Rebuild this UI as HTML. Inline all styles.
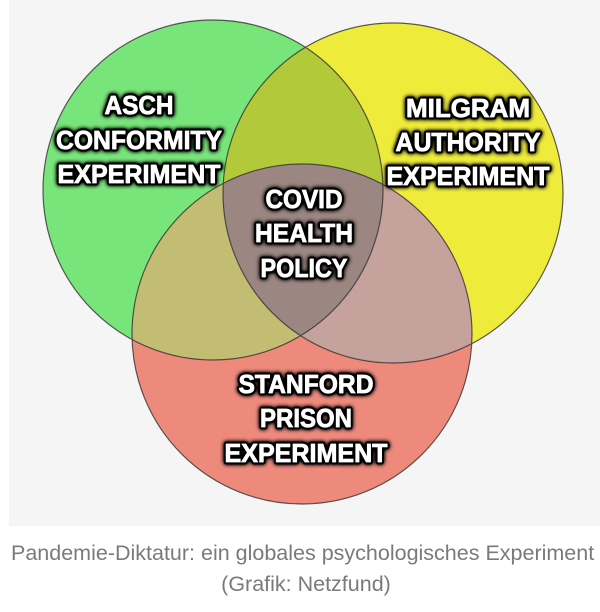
<!DOCTYPE html>
<html><head><meta charset="utf-8"><style>
html,body{margin:0;padding:0;background:#fff;width:600px;height:612px;overflow:hidden}
.cap{position:absolute;font-family:"Liberation Sans",sans-serif;font-size:21.5px;color:#7a7a7a;white-space:nowrap}
</style></head><body>
<div style="position:absolute;left:9px;top:0;width:591px;height:526px;background:#f5f5f5"></div>
<svg style="position:absolute;left:0;top:0" width="600" height="530" viewBox="0 0 600 530">
<defs>
<clipPath id="g"><circle cx="213" cy="190" r="170"/></clipPath>
<clipPath id="y"><circle cx="393" cy="193" r="170"/></clipPath>
<clipPath id="r"><circle cx="302" cy="334" r="170"/></clipPath>
<filter id="sh" x="-20%" y="-40%" width="140%" height="180%"><feGaussianBlur in="SourceAlpha" stdDeviation="2"/><feComponentTransfer><feFuncA type="linear" slope="1.5"/></feComponentTransfer><feMerge><feMergeNode/><feMergeNode in="SourceGraphic"/></feMerge></filter>
</defs>
<circle cx="213" cy="190" r="170" fill="#78e57a"/>
<circle cx="393" cy="193" r="170" fill="#eeeb3a"/>
<circle cx="302" cy="334" r="170" fill="#ee8a7c"/>
<circle cx="393" cy="193" r="170" fill="#b2c93a" clip-path="url(#g)"/>
<circle cx="302" cy="334" r="170" fill="#c2bd72" clip-path="url(#g)"/>
<circle cx="302" cy="334" r="170" fill="#c6a29d" clip-path="url(#y)"/>
<g clip-path="url(#g)"><circle cx="302" cy="334" r="170" fill="#9b8681" clip-path="url(#y)"/></g>
<g fill="none" stroke="#333" stroke-width="1.2" opacity="0.8">
<circle cx="213" cy="190" r="170"/><circle cx="393" cy="193" r="170"/><circle cx="302" cy="334" r="170"/>
</g>
<g id="t" font-family="Liberation Sans,sans-serif" font-weight="bold" font-size="26" fill="#fff" stroke="#000" stroke-width="5" stroke-linejoin="round" paint-order="stroke" text-anchor="middle" filter="url(#sh)">
<text x="139" y="114" textLength="69" lengthAdjust="spacingAndGlyphs">ASCH</text>
<text x="139" y="149" textLength="166" lengthAdjust="spacingAndGlyphs">CONFORMITY</text>
<text x="139" y="183" textLength="163" lengthAdjust="spacingAndGlyphs">EXPERIMENT</text>
<text x="468" y="117" textLength="124" lengthAdjust="spacingAndGlyphs">MILGRAM</text>
<text x="468" y="151" textLength="145" lengthAdjust="spacingAndGlyphs">AUTHORITY</text>
<text x="468" y="185" textLength="163" lengthAdjust="spacingAndGlyphs">EXPERIMENT</text>
<text x="304" y="208" textLength="77" lengthAdjust="spacingAndGlyphs">COVID</text>
<text x="304" y="242" textLength="98" lengthAdjust="spacingAndGlyphs">HEALTH</text>
<text x="304" y="277" textLength="87" lengthAdjust="spacingAndGlyphs">POLICY</text>
<text x="306" y="393" textLength="135" lengthAdjust="spacingAndGlyphs">STANFORD</text>
<text x="306" y="427" textLength="92" lengthAdjust="spacingAndGlyphs">PRISON</text>
<text x="306" y="462" textLength="163" lengthAdjust="spacingAndGlyphs">EXPERIMENT</text>
</g>
<g font-family="Liberation Sans,sans-serif" font-weight="bold" font-size="26" fill="#fff" stroke="#fff" stroke-width="0.8" text-anchor="middle">
<text x="139" y="114" textLength="69" lengthAdjust="spacingAndGlyphs">ASCH</text>
<text x="139" y="149" textLength="166" lengthAdjust="spacingAndGlyphs">CONFORMITY</text>
<text x="139" y="183" textLength="163" lengthAdjust="spacingAndGlyphs">EXPERIMENT</text>
<text x="468" y="117" textLength="124" lengthAdjust="spacingAndGlyphs">MILGRAM</text>
<text x="468" y="151" textLength="145" lengthAdjust="spacingAndGlyphs">AUTHORITY</text>
<text x="468" y="185" textLength="163" lengthAdjust="spacingAndGlyphs">EXPERIMENT</text>
<text x="304" y="208" textLength="77" lengthAdjust="spacingAndGlyphs">COVID</text>
<text x="304" y="242" textLength="98" lengthAdjust="spacingAndGlyphs">HEALTH</text>
<text x="304" y="277" textLength="87" lengthAdjust="spacingAndGlyphs">POLICY</text>
<text x="306" y="393" textLength="135" lengthAdjust="spacingAndGlyphs">STANFORD</text>
<text x="306" y="427" textLength="92" lengthAdjust="spacingAndGlyphs">PRISON</text>
<text x="306" y="462" textLength="163" lengthAdjust="spacingAndGlyphs">EXPERIMENT</text>
</g>
</svg>
<div class="cap" style="left:11px;top:541px">Pandemie-Diktatur: ein globales psychologisches Experiment</div>
<div class="cap" style="left:0;width:612px;text-align:center;top:572px">(Grafik: Netzfund)</div>
</body></html>
